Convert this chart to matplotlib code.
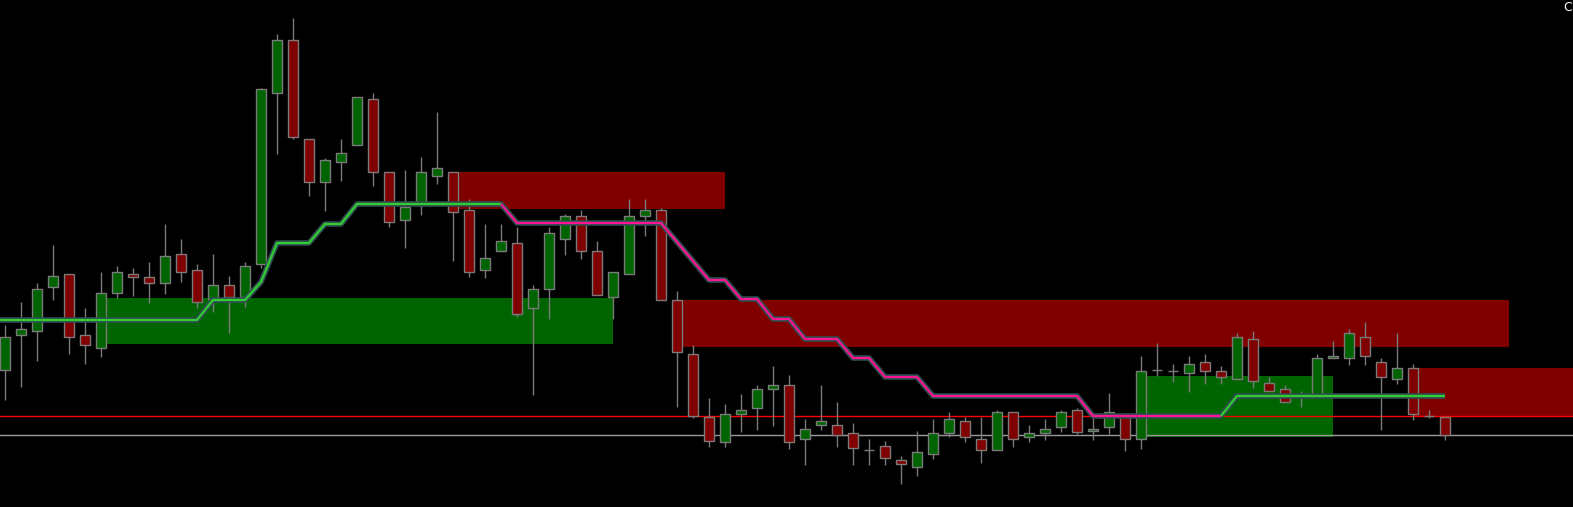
import matplotlib
matplotlib.use("Agg")
import matplotlib.pyplot as plt
from matplotlib.patches import Rectangle

# OHLC values (arbitrary price units)
opens  = [137,172,176,220,233,172,159,214,233,230,224,253,237,208,222,210,243,414,467,368,
          325,345,362,408,335,287,305,331,335,297,237,256,264,199,218,268,291,256,210,233,
          291,297,207,153,90,65,93,99,118,122,68,82,82,74,57,61,47,40,53,74,
          86,68,57,95,70,74,80,97,76,80,90,68,137,136,134,145,136,128,168,124,
          118,112,111,149,149,170,145,128,139,91,90]
highs  = [182,205,224,262,233,199,235,241,239,245,283,268,243,253,231,245,419,473,489,368,
          349,368,410,414,335,337,350,395,335,308,283,283,280,222,280,293,297,266,235,308,
          308,299,216,162,109,103,113,122,141,132,88,122,105,84,68,66,51,76,88,95,
          90,90,97,95,82,88,97,99,89,114,90,151,164,143,151,153,141,174,176,130,
          122,116,153,166,178,185,149,174,143,97,90]
lows   = [107,120,146,207,153,143,150,209,211,204,213,225,199,195,174,200,239,353,368,311,
          296,326,362,321,280,259,292,323,246,230,229,256,190,112,188,252,248,212,188,233,
          271,207,100,89,60,60,75,77,81,58,42,77,60,42,42,42,23,31,48,70,
          65,44,57,60,65,67,75,73,67,73,56,58,131,125,115,123,123,128,119,116,
          105,100,111,149,142,142,77,123,87,89,67]
closes = [170,178,218,231,170,162,214,235,230,224,251,235,205,222,210,241,418,467,370,325,
          347,354,410,335,285,300,335,339,295,235,249,266,193,218,274,291,256,212,235,291,
          297,207,155,91,66,93,97,118,122,65,78,86,72,59,57,49,43,55,74,88,
          70,57,95,68,74,78,95,75,78,95,68,136,137,136,143,136,130,170,126,116,
          105,111,149,151,174,151,130,139,93,91,72]

# trailing stop line values per candle
trail = [187]*13 + [207]*3 + [225] + [264]*3 + [283]*2 + [303]*10 + [284]*10 + [265, 246] + \
        [227]*2 + [208]*2 + [188]*2 + [168]*3 + [149]*2 + [130]*3 + [111]*10 + [91]*9 + [111]*14
trail_up_1 = (0, 31)     # green segment
trail_down = (31, 76)    # pink segment
trail_up_2 = (76, 90)    # green segment

# supply / demand zones: (start candle, end candle, low, high, kind)
zone_start = [6, 28, 42, 71, 88]
zone_end   = [38, 45, 94, 83, 100]
zone_low   = [163, 298, 160, 70, 91]
zone_high  = [209, 335, 207, 131, 139]
zone_kind  = ["demand", "supply", "supply", "demand", "supply"]

red_level = 91
gray_level = 72

BG = "#000000"
UP = "#006400"
DN = "#800000"
EDGE = "#7a7a7a"

fig = plt.figure(figsize=(15.73, 5.07), dpi=100, facecolor=BG)
ax = fig.add_axes([0, 0, 1, 1])
ax.set_facecolor(BG)
XMIN, XMAX = -0.3125, 98.0
ax.set_xlim(XMIN, XMAX)
ax.set_ylim(0, 507)
ax.axis("off")

# zones
for s, e, lo, hi, k in zip(zone_start, zone_end, zone_low, zone_high, zone_kind):
    ax.add_patch(Rectangle((s, lo), e - s, hi - lo,
                           facecolor=UP if k == "demand" else DN,
                           edgecolor="none", zorder=1))

# horizontal levels
ax.axhline(red_level, color="#ff0000", lw=1.0, zorder=2)
ax.axhline(gray_level, color="#9a9a9a", lw=1.0, zorder=2)

# candles
w = 0.62
for i, (o, h, l, c) in enumerate(zip(opens, highs, lows, closes)):
    ax.vlines(i, l, h, color=EDGE, lw=1.0, zorder=3)
    if o == c:
        ax.hlines(o, i - w / 2, i + w / 2, color=EDGE, lw=1.0, zorder=4)
    else:
        ax.add_patch(Rectangle((i - w / 2, min(o, c)), w, abs(c - o),
                               facecolor=UP if c > o else DN,
                               edgecolor=EDGE, lw=1.0, zorder=4))

# trailing line (first value carried to the left edge of the view)
xs = [XMIN] + list(range(1, len(trail)))
ax.plot(xs, trail, color="#2f4f4f", lw=4.0, solid_capstyle="butt", zorder=5)
for (a, b), col in [(trail_up_1, "#32cd32"), (trail_down, "#ff1493"), (trail_up_2, "#32cd32")]:
    ax.plot(xs[a:b + 1], trail[a:b + 1], color=col, lw=1.6, solid_capstyle="butt", zorder=6)

fig.text(1563 / 1573, 1 - 1 / 507, "C", color="white", fontsize=9, ha="left", va="top")

fig.savefig("out.png", dpi=100, facecolor=BG)
